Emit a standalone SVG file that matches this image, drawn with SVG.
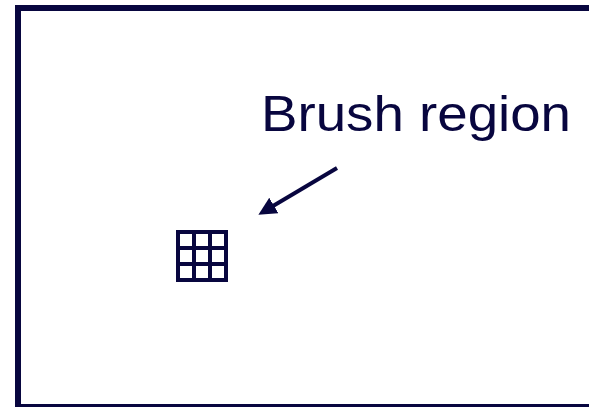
<svg xmlns="http://www.w3.org/2000/svg" width="589" height="407" viewBox="0 0 589 407">
<style>
.ink{stroke:#08063f;fill:none}
.lbl{font-family:"Liberation Sans",Arial,sans-serif;font-size:50px;fill:#08063f}
</style>
<defs>
<marker id="ah" markerUnits="userSpaceOnUse" markerWidth="20" markerHeight="18" refX="1" refY="9" orient="auto">
<path d="M0,0 L18,9 L0,18 Z" fill="#08063f"/>
</marker>
</defs>
<rect width="589" height="407" fill="#ffffff"/>
<g id="frame">
<rect class="ink" x="18" y="8" width="620" height="399" stroke-width="6"/>
</g>
<g id="brush">
<rect class="ink" x="178" y="232" width="48" height="48" stroke-width="4"/>
<path class="ink" stroke-width="4" d="M194,232V280M210,232V280M178,248H226M178,264H226"/>
</g>
<g id="label">
<text class="lbl" x="261" y="131" textLength="310" lengthAdjust="spacingAndGlyphs">Brush region</text>
</g>
<g id="connectors">
<line class="ink" x1="337" y1="168" x2="273" y2="206" stroke-width="4" marker-end="url(#ah)"/>
</g>
</svg>
